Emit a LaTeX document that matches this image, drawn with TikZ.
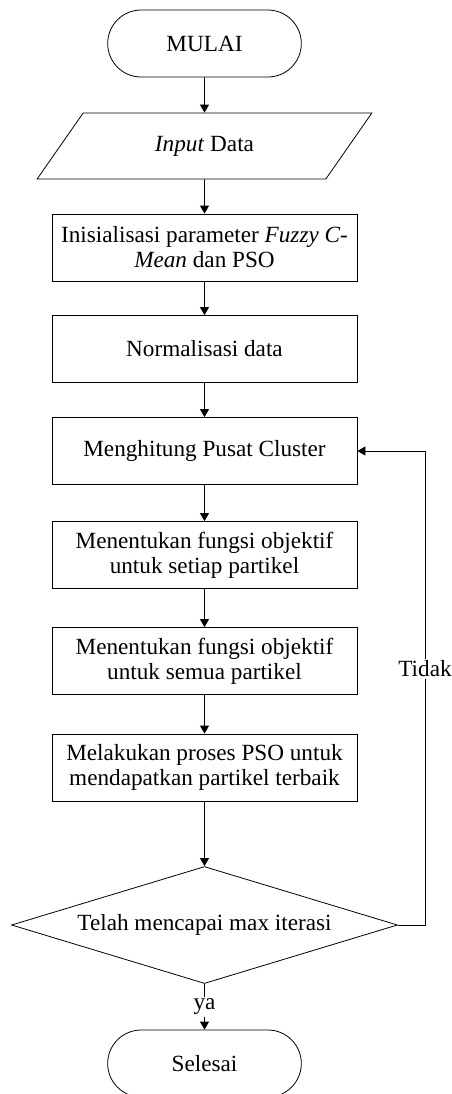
\documentclass[tikz,border=0pt]{standalone}
\usepackage{fontspec}
\setmainfont{Liberation Serif}
\usetikzlibrary{shapes.geometric,shapes.misc,arrows.meta}
\begin{document}
\begin{tikzpicture}[x=0.5pt,y=-0.5pt,
        every node/.style={font=\fontsize{11.6}{12.5}\selectfont},
        proses/.style={draw,rectangle,align=center,minimum width=152.5pt,
            minimum height=33.5pt,inner sep=2pt},
        terminal/.style={draw,rounded rectangle,minimum width=103.5pt,
            minimum height=33.5pt},
        masukan/.style={draw,trapezium,trapezium left angle=57.5,
            trapezium right angle=122.5,trapezium stretches=true,
            minimum width=167.5pt,minimum height=33pt},
        keputusan/.style={draw,diamond,aspect=3.3,inner sep=1pt,
            minimum width=193pt,minimum height=58.5pt},
        panah/.style={-{Triangle[width=4.5pt,length=4pt]}}]
    \useasboundingbox (0,0) rectangle (451,1094);

\node[terminal] (mulai) at (204.5,43.5) {MULAI};
\node[masukan] (input) at (204.5,146) {\textit{Input} Data};
\node[proses] (init) at (204.5,247.5) {Inisialisasi parameter \textit{Fuzzy C-}\\\textit{Mean} dan PSO};
\node[proses] (norm) at (204.5,349) {Normalisasi data};
\node[proses] (pusat) at (204.5,451) {Menghitung Pusat Cluster};
\node[proses] (setiap) at (204.5,555) {Menentukan fungsi objektif\\untuk setiap partikel};
\node[proses] (semua) at (204.5,661) {Menentukan fungsi objektif\\untuk semua partikel};
\node[proses] (pso) at (204.5,767.5) {Melakukan proses PSO untuk\\mendapatkan partikel terbaik};
\node[keputusan] (cek) at (204.5,925) {Telah mencapai max iterasi};
\node[terminal] (selesai) at (204.5,1063.5) {Selesai};
\coordinate (kanan) at (425,925);

\draw[panah] (mulai) -- (input);
\draw[panah] (input) -- (init);
\draw[panah] (init) -- (norm);
\draw[panah] (norm) -- (pusat);
\draw[panah] (pusat) -- (setiap);
\draw[panah] (setiap) -- (semua);
\draw[panah] (semua) -- (pso);
\draw[panah] (pso) -- (cek);
\draw[panah] (cek) -- node[fill=white,inner sep=1pt] {ya} (selesai);
\draw[panah] (cek.east) -- (kanan) |- node[pos=0.27,fill=white,inner sep=1pt] {Tidak} (pusat.east);
\end{tikzpicture}
\end{document}
